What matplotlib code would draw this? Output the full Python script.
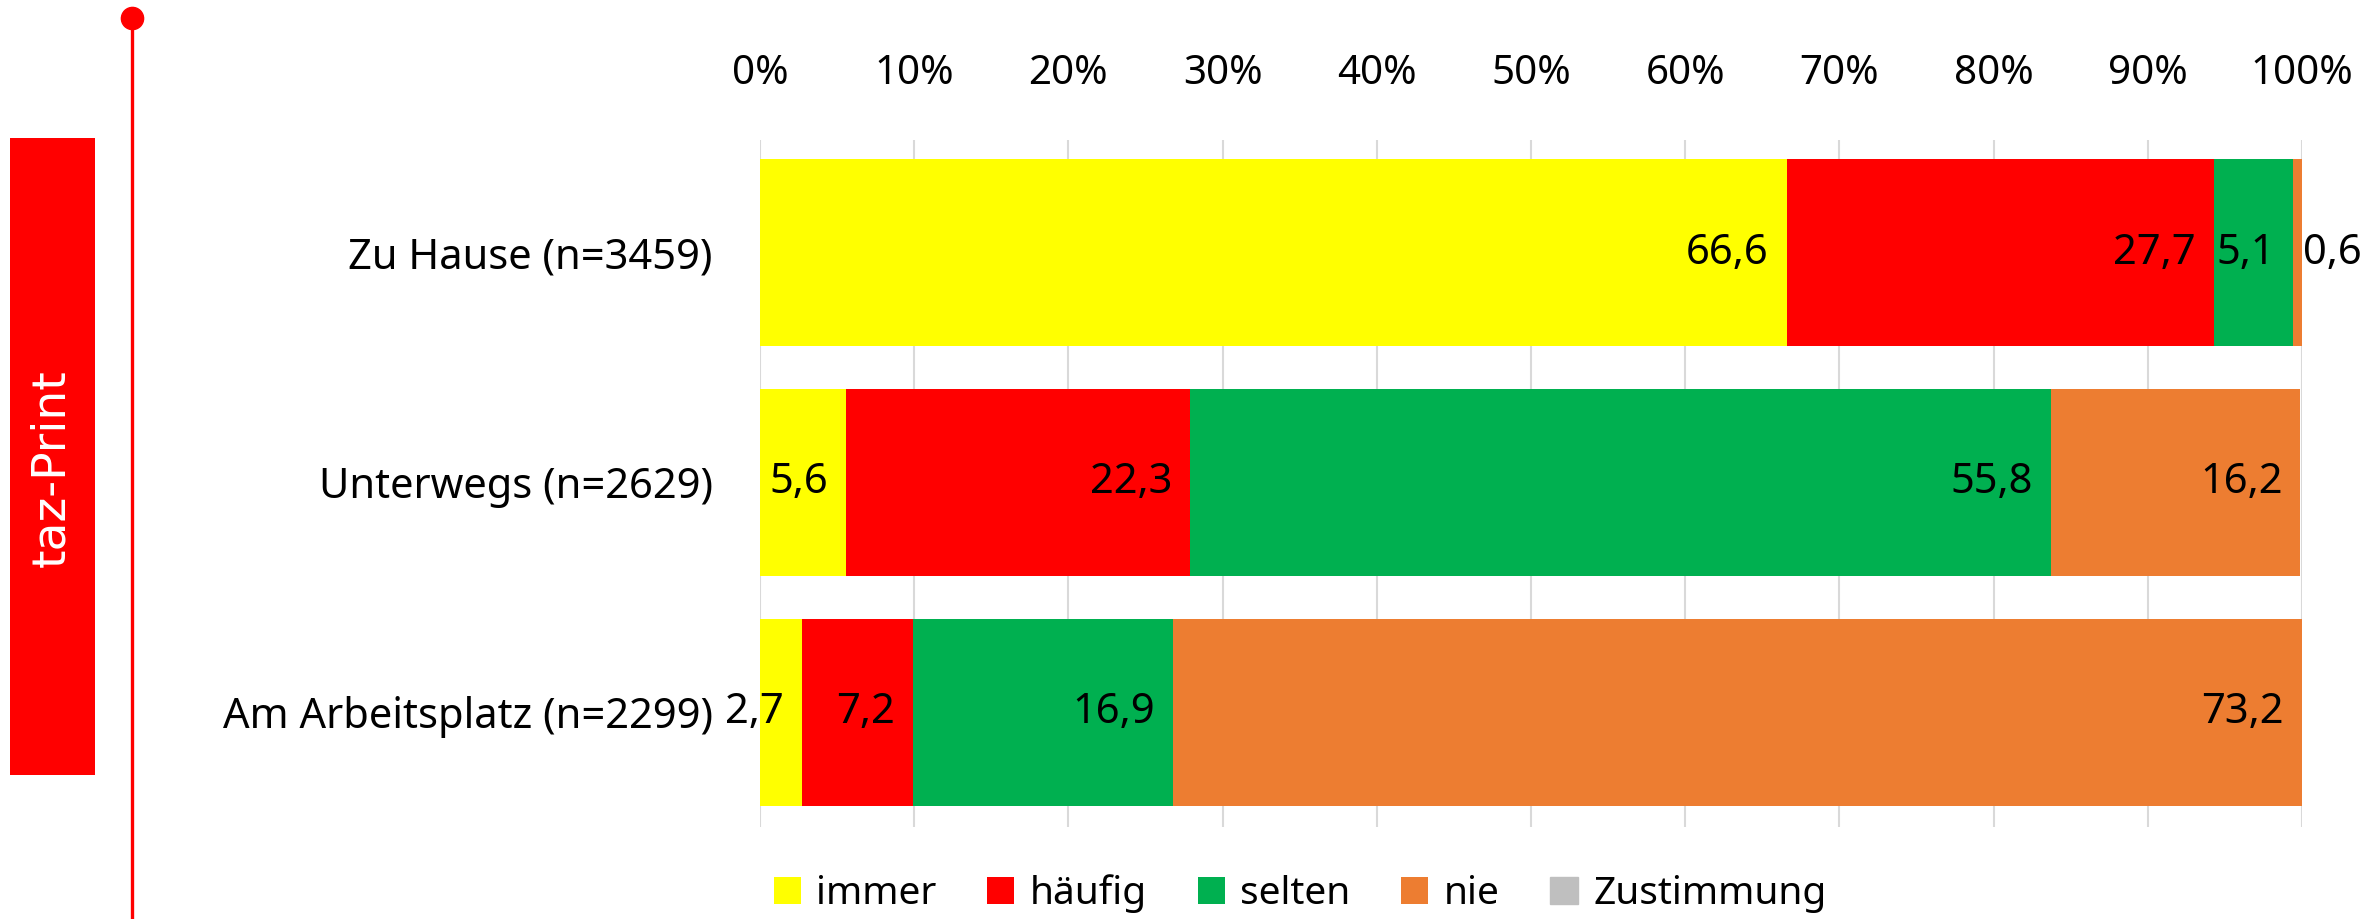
import matplotlib.pyplot as plt
from matplotlib.patches import Patch, Rectangle
from matplotlib.lines import Line2D

# Data
categories = ['Zu Hause (n=3459)', 'Unterwegs (n=2629)', 'Am Arbeitsplatz (n=2299)']
series_names = ['immer', 'häufig', 'selten', 'nie']
immer = [66.6, 5.6, 2.7]
haeufig = [27.7, 22.3, 7.2]
selten = [5.1, 55.8, 16.9]
nie = [0.6, 16.2, 73.2]
empty_series = 'Zustimmung'
x_ticks = [0, 10, 20, 30, 40, 50, 60, 70, 80, 90, 100]
x_tick_labels = [f'{t}%' for t in x_ticks]

colors = ['#FFFF00', '#FF0000', '#00B050', '#ED7D31']
empty_color = '#BFBFBF'

W, H = 2379, 919


def fmt(v):
    return f'{v:.1f}'.replace('.', ',')


def main():
    plt.rcParams['font.family'] = ['Noto Sans', 'DejaVu Sans']
    fig = plt.figure(figsize=(W / 100, H / 100), dpi=100)
    ax = fig.add_axes([760 / W, 1 - 827 / H, (2302 - 760) / W, (827 - 140) / H])

    y = list(range(len(categories)))
    left = [0.0] * len(categories)
    for name, vals, color in zip(series_names, [immer, haeufig, selten, nie], colors):
        ax.barh(y, vals, left=left, height=0.813, color=color, label=name, zorder=2)
        for yi, (l, v) in enumerate(zip(left, vals)):
            end = l + v
            if v < 2:
                # too narrow, put the label just outside the bar end
                ax.annotate(fmt(v), (end, yi), xytext=(1, 0), textcoords='offset points',
                            ha='left', va='center', fontsize=30, zorder=3)
            else:
                ax.annotate(fmt(v), (end, yi), xytext=(-13, 0), textcoords='offset points',
                            ha='right', va='center', fontsize=30, zorder=3)
        left = [a + b for a, b in zip(left, vals)]

    ax.set_xlim(0, 100)
    ax.set_ylim(2.5, -0.49)
    ax.set_yticks(y)
    ax.set_yticklabels(categories, fontsize=30)
    ax.set_xticks(x_ticks)
    ax.set_xticklabels(x_tick_labels, fontsize=29)
    ax.xaxis.tick_top()
    ax.tick_params(axis='x', length=0, pad=33)
    ax.tick_params(axis='y', length=0, pad=34)
    ax.grid(axis='x', color='#D9D9D9', linewidth=1.5, zorder=0)
    ax.set_axisbelow(True)
    for s in ax.spines.values():
        s.set_visible(False)

    # Legend incl. the empty "Zustimmung" series
    handles, labels = ax.get_legend_handles_labels()
    handles.append(Patch(color=empty_color))
    labels.append(empty_series)
    fig.legend(handles, labels, loc='center', bbox_to_anchor=(1300 / W, 1 - 894 / H),
               ncol=5, frameon=False, fontsize=28, handlelength=0.7, handleheight=0.7,
               handletextpad=0.4, columnspacing=1.3, borderpad=0)

    # taz decoration on the left
    fig.add_artist(Rectangle((10 / W, 1 - 775 / H), 85 / W, 637 / H,
                             transform=fig.transFigure, color='#FF0000', lw=0))
    fig.text(52 / W, 1 - 468 / H, 'taz-Print', rotation=90, color='white',
             ha='center', va='center', fontsize=34,
             family=['Liberation Sans Narrow', 'DejaVu Sans'])
    fig.add_artist(Line2D([132 / W, 132 / W], [0, 1 - 18 / H], transform=fig.transFigure,
                          color='#FF0000', lw=2.4))
    fig.add_artist(Line2D([132 / W], [1 - 18 / H], transform=fig.transFigure,
                          color='#FF0000', marker='o', markersize=16, lw=0))

    fig.savefig('out.png', dpi=100)


if __name__ == '__main__':
    main()
